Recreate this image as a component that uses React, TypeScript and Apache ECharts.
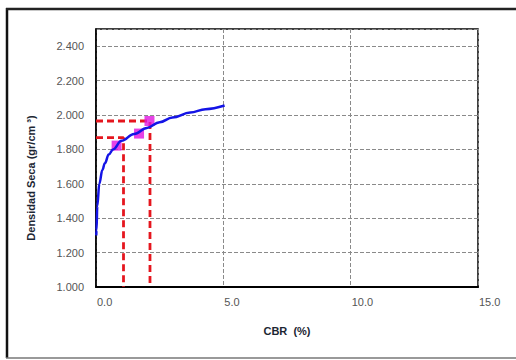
import React, { useEffect, useRef } from "react";
import * as echarts from "echarts";

const curveX = [0.01, 0.02, 0.05, 0.13, 0.25, 0.35, 0.5, 0.67, 1.0, 1.5, 2.0, 2.5, 3.0, 3.7, 4.3, 5.05];
const curveY = [1.30, 1.33, 1.47, 1.60, 1.68, 1.72, 1.77, 1.80, 1.85, 1.89, 1.925, 1.958, 1.985, 2.014, 2.034, 2.055];

const pointsX = [0.81, 1.69, 2.1];
const pointsY = [1.822, 1.892, 1.965];

const guideLowX = [0, 1.08, 1.08];
const guideLowY = [1.868, 1.868, 1.0];
const guideHighX = [0, 2.12, 2.12];
const guideHighY = [1.965, 1.965, 1.0];

const xTicks = [0, 15, 5];
const yTicks = [1.0, 2.5, 0.2];

const zip = (a: number[], b: number[]) => a.map((v, i) => [v, b[i]]);

export default function App() {
  const ref = useRef<HTMLDivElement>(null);
  useEffect(() => {
    if (!ref.current) return;
    const chart = echarts.init(ref.current, null, { renderer: "svg" });
    const redLine = {
      type: "line",
      showSymbol: false,
      symbol: "none",
      lineStyle: { color: "#e5161e", width: 2.8, type: [7, 4] },
      z: 2,
    };
    chart.setOption({
      animation: false,
      backgroundColor: "#ffffff",
      grid: {
        left: 96,
        top: 29,
        right: 38,
        bottom: 73,
        show: true,
        borderColor: "#000",
        borderWidth: 1.5,
        containLabel: false,
      },
      xAxis: {
        type: "value",
        min: xTicks[0],
        max: xTicks[1],
        interval: xTicks[2],
        name: "CBR  (%)",
        nameLocation: "middle",
        nameGap: 38,
        nameTextStyle: { fontFamily: "Liberation Sans, Arial", fontWeight: "bold", fontSize: 11, color: "#1c2633" },
        axisLine: { show: true, lineStyle: { color: "#000", width: 2 } },
        axisTick: { show: false },
        axisLabel: {
          align: "left",
          margin: 9,
          padding: [0, 0, 0, 1],
          fontFamily: "Liberation Sans, Arial",
          fontSize: 11,
          color: "#555",
          formatter: (v: number) => v.toFixed(1),
        },
        splitLine: { show: true, lineStyle: { color: "#8a8a8a", type: [4, 2], width: 1 } },
      },
      yAxis: {
        type: "value",
        min: yTicks[0],
        max: yTicks[1],
        interval: yTicks[2],
        axisLine: { show: true, lineStyle: { color: "#000", width: 1.5 } },
        axisTick: { show: false },
        axisLabel: {
          margin: 12,
          showMaxLabel: false,
          fontFamily: "Liberation Sans, Arial",
          fontSize: 11,
          color: "#555",
          formatter: (v: number) => v.toFixed(3),
        },
        splitLine: { show: true, lineStyle: { color: "#8a8a8a", type: [4, 2], width: 1 } },
      },
      graphic: [
        { type: "line", shape: { x1: 7, y1: 8, x2: 7, y2: 358 }, style: { stroke: "#111", lineWidth: 2.5 } },
        { type: "line", shape: { x1: 6, y1: 9, x2: 516, y2: 9 }, style: { stroke: "#222", lineWidth: 2.5 } },
        { type: "line", shape: { x1: 6, y1: 358, x2: 516, y2: 358 }, style: { stroke: "#777", lineWidth: 1.5 } },
        {
          type: "text",
          x: 31,
          y: 178,
          rotation: Math.PI / 2,
          style: {
            text: "Densidad Seca (gr/cm ³)",
            fontFamily: "Liberation Sans, Arial",
            fontWeight: "bold",
            fontSize: 11,
            fill: "#1c2633",
            align: "center",
            verticalAlign: "middle",
          },
        },
      ],
      series: [
        { ...redLine, data: zip(guideLowX, guideLowY) },
        { ...redLine, data: zip(guideHighX, guideHighY) },
        {
          type: "scatter",
          symbol: "rect",
          symbolSize: [10, 10],
          itemStyle: { color: "#e014e0" },
          data: zip(pointsX, pointsY),
          z: 3,
        },
        {
          type: "line",
          smooth: 0.4,
          smoothMonotone: "x",
          showSymbol: false,
          symbol: "none",
          lineStyle: { color: "#1414e6", width: 2.5 },
          data: zip(curveX, curveY),
          z: 4,
        },
      ],
    });
    return () => chart.dispose();
  }, []);
  return <div ref={ref} style={{ position: "fixed", left: 0, top: 0, width: 516, height: 360 }} />;
}
